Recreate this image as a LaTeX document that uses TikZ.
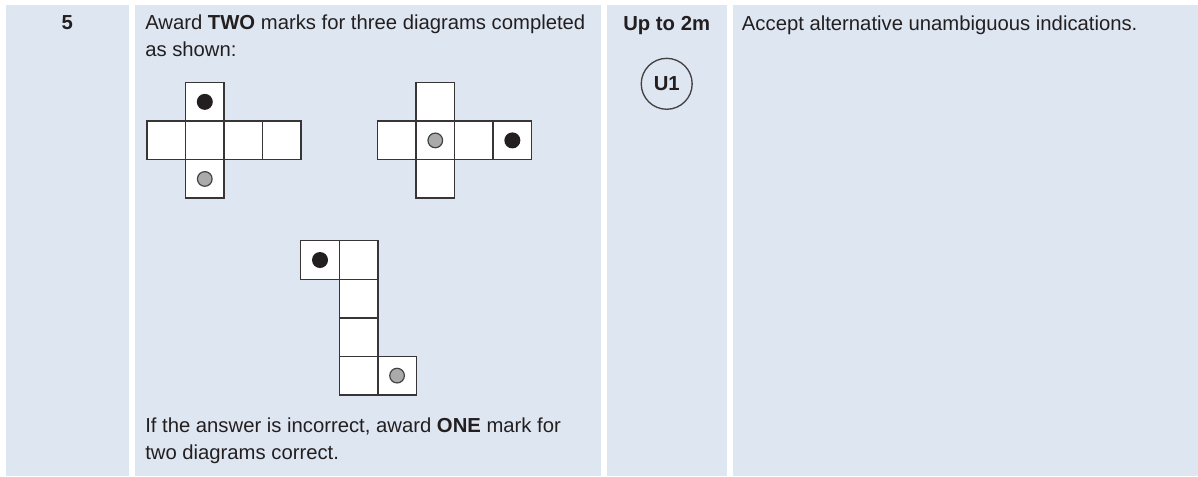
\documentclass[tikz,border=0pt]{standalone}
\usepackage{fontspec}
\setmainfont{Liberation Sans}
\usepackage{xcolor}
\usetikzlibrary{positioning}
\definecolor{panelblue}{RGB}{222,230,242}
\definecolor{inkgrey}{RGB}{35,31,32}
\definecolor{dotgrey}{RGB}{168,170,172}
\tikzset{
panel/.style={
fill=panelblue,
draw=none
},
txt/.style={
anchor=base west,
inner sep=0,
align=left,
text=inkgrey,
font=\fontsize{15.2}{19.9}\selectfont
},
headtxt/.style={
anchor=base,
inner sep=0,
text=inkgrey,
font=\fontsize{15.2}{19.9}\selectfont\bfseries
},
cell/.style={
draw=inkgrey!90,
fill=white,
line width=1.1pt,
minimum size=28.9pt,
inner sep=0,
outer sep=0
},
blackdot/.style={
circle,
fill=inkgrey,
minimum size=12pt,
inner sep=0
},
greydot/.style={
circle,
draw=inkgrey!85,
line width=0.9pt,
fill=dotgrey,
minimum size=11pt,
inner sep=0
},
unitring/.style={
circle,
draw=inkgrey!85,
line width=1pt,
minimum size=38.2pt,
inner sep=0,
text=inkgrey,
font=\fontsize{15.2}{19.9}\selectfont\bfseries
}
}

\begin{document}
\begin{tikzpicture}[x=0.75pt,y=-0.75pt,node distance=0pt]
\useasboundingbox (0,0) rectangle (1198,476);
\fill[white] (0,0) rectangle (1198,476);
% columns
\fill[panel] (6,4.5) rectangle (128.5,476);
\fill[panel] (134.5,4.5) rectangle (600.5,476);
\fill[panel] (606.7,4.5) rectangle (726.7,476);
\fill[panel] (732.7,4.5) rectangle (1198,476);

\node[headtxt] (qnum) at (67.3,29.5) {5};
% two-line texts sit on the baseline of their last line
\node[txt] (intro) at (145,56) {Award \textbf{TWO} marks for three diagrams completed\\as shown:};
\node[headtxt] (marks) at (666.7,30) {Up to 2m};
\node[unitring] (u1) at (666.7,83.8) {U1};
\node[txt] (note) at (741.7,30) {Accept alternative unambiguous indications.};
\node[txt] (partial) at (145,459) {If the answer is incorrect, award \textbf{ONE} mark for\\two diagrams correct.};

% first net
\node[cell] (a1) at (166.25,140.4) {};
\foreach \x/\y in {a1/a2,a2/a3,a3/a4}
\node[cell,right=of \x] (\y) {};
\node[cell,above=of a2] (a5) {};
\node[cell,below=of a2] (a6) {};
\node[blackdot] (da) at (a5) {};
\node[greydot] (ga) at (a6) {};

% second net
\node[cell] (b1) at (396.75,140.4) {};
\foreach \x/\y in {b1/b2,b2/b3,b3/b4}
\node[cell,right=of \x] (\y) {};
\node[cell,above=of b2] (b5) {};
\node[cell,below=of b2] (b6) {};
\node[greydot] (gb) at (b2) {};
\node[blackdot] (db) at (b4) {};

% third net
\node[cell] (c1) at (320,260) {};
\node[cell,right=of c1] (c2) {};
\foreach \x/\y in {c2/c3,c3/c4,c4/c5}
\node[cell,below=of \x] (\y) {};
\node[cell,right=of c5] (c6) {};
\node[blackdot] (dc) at (c1) {};
\node[greydot] (gc) at (c6) {};
\end{tikzpicture}
\end{document}
